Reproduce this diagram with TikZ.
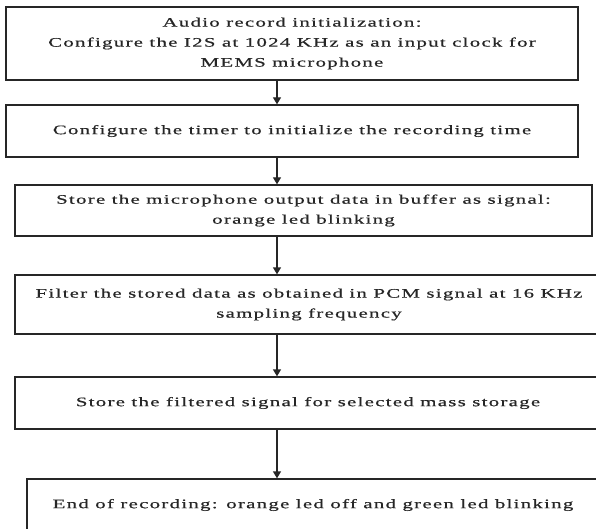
\documentclass[tikz,border=0pt]{standalone}
\usepackage{fontspec}
\setmainfont{Liberation Serif}[FakeStretch=1.6,LetterSpace=10,FakeBold=0.6]
\usetikzlibrary{arrows.meta}
\begin{document}
\begin{tikzpicture}[x=1pt,y=-1pt,
  stepbox/.style={draw=black!85,line width=1.3pt,inner sep=0pt,align=center,
    font=\fontsize{13}{20}\selectfont,text=black!85},
  arr/.style={draw=black!85,line width=1.3pt,-{Triangle[length=7pt,width=8pt]}}]
\clip (0,0) rectangle (596,529);
\fill[white] (0,0) rectangle (596,529);
\coordinate (ax) at (277,0);
\node[stepbox,minimum width=572pt,minimum height=73pt] (b1) at (292,43.5)
  {Audio record initialization:\\Configure the I2S at 1024 KHz as an input clock for\\MEMS microphone};
\node[stepbox,minimum width=572pt,minimum height=52pt] (b2) at (292,131)
  {Configure the timer to initialize the recording time};
\node[stepbox,minimum width=577pt,minimum height=51pt] (b3) at (303.5,210.5)
  {Store the microphone output data in buffer as signal:\\orange led blinking};
\node[stepbox,minimum width=588pt,minimum height=59pt] (b4) at (309,304.5)
  {Filter the stored data as obtained in PCM signal at 16 KHz\\sampling frequency};
\node[stepbox,minimum width=586pt,minimum height=52pt] (b5) at (308,403)
  {Store the filtered signal for selected mass storage};
\node[stepbox,minimum width=572pt,minimum height=52pt] (b6) at (313,505)
  {End of recording: orange led off and green led blinking};
\draw[arr] (b1.south -| ax) -- (b2.north -| ax);
\draw[arr] (b2.south -| ax) -- (b3.north -| ax);
\draw[arr] (b3.south -| ax) -- (b4.north -| ax);
\draw[arr] (b4.south -| ax) -- (b5.north -| ax);
\draw[arr] (b5.south -| ax) -- (b6.north -| ax);
\end{tikzpicture}
\end{document}
